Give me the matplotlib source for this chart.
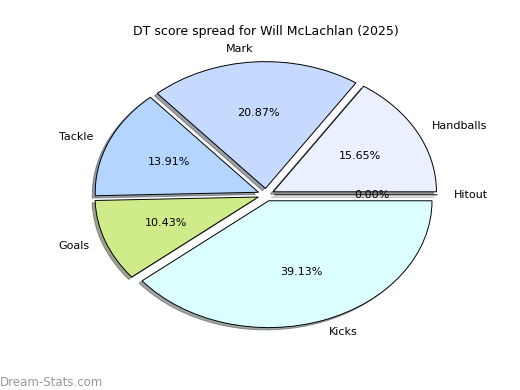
import matplotlib
matplotlib.use("Agg")
import matplotlib.pyplot as plt

labels = ['Handballs', 'Mark', 'Tackle', 'Goals', 'Kicks', 'Hitout']
values = [18, 24, 16, 12, 45, 0]
colors = ['#eaf0ff', '#c6d9ff', '#b4d5ff', '#d0ec8a', '#dbffff', '#f0f0f0']
explode = [0.05] * len(values)

fig = plt.figure(figsize=(5.2, 3.9), dpi=100)
ax = fig.add_axes([0.119, 0.094, 0.785, 0.813])
ax.pie(values, labels=labels, colors=colors, explode=explode, autopct='%1.2f%%',
       shadow={'ox': -0.013, 'oy': -0.013}, startangle=0, counterclock=True,
       wedgeprops={'edgecolor': 'black', 'linewidth': 0.7},
       textprops={'fontsize': 8})
ax.set_aspect('auto')
fig.text(0.5115, 1 - 31 / 390, 'DT score spread for Will McLachlan (2025)',
         fontsize=9, ha='center', va='center')
fig.text(0.0, 0.01, 'Dream-Stats.com', color='#999999', fontsize=8.5)
fig.savefig('out.png', dpi=100)
